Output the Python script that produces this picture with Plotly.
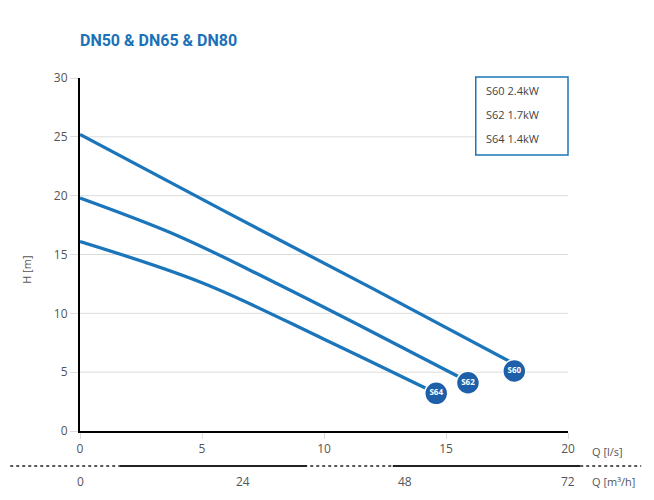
import plotly.graph_objects as go

# ---- data ----
q_s60 = [0, 6, 12, 17.8]
h_s60 = [25.2, 18.6, 12.1, 5.7]
q_s62 = [0, 4, 8, 12, 16]
h_s62 = [19.8, 16.6, 12.6, 8.4, 4.1]
q_s64 = [0, 5, 10, 14.6]
h_s64 = [16.1, 12.6, 7.8, 3.2]
series_names = ["S60", "S62", "S64"]
marker_q = [17.8, 15.9, 14.6]
marker_h = [5.1, 4.1, 3.2]
legend_labels = ["S60 2.4kW", "S62 1.7kW", "S64 1.4kW"]
x_ticks_ls = [0, 5, 10, 15, 20]
x_ticks_m3h = [0, 24, 48, 72]
y_ticks = [0, 5, 10, 15, 20, 25, 30]
grid_values = [5, 10, 15, 20, 25]

LINE = "#1b75bb"
MARK = "#1d5fa8"
TXT = "#555555"
FONT = "Open Sans"

fig = go.Figure()
for q, h in [(q_s60, h_s60), (q_s62, h_s62), (q_s64, h_s64)]:
    fig.add_trace(go.Scatter(x=q, y=h, mode="lines", line=dict(color=LINE, width=3.3, shape="spline", smoothing=1.0),
                             hoverinfo="skip", showlegend=False))

for g in grid_values:
    fig.add_shape(type="line", xref="x", yref="y", x0=0, x1=20, y0=g, y1=g,
                  line=dict(color="#dcdcdc", width=1), layer="below")

fig.add_trace(go.Scatter(x=marker_q, y=marker_h, mode="markers+text",
                         text=["<b>" + s + "</b>" for s in series_names],
                         textposition="middle center",
                         textfont=dict(color="white", size=8, family=FONT),
                         marker=dict(size=23, color=MARK, line=dict(color="white", width=1.5)),
                         showlegend=False, hoverinfo="skip"))

# second axis labels (m3/h -> l/s)
for v in x_ticks_m3h:
    fig.add_annotation(x=v / 3.6, y=-0.144, xref="x", yref="paper", text=str(v), showarrow=False,
                       font=dict(size=12, color=TXT, family=FONT), xanchor="center", yanchor="middle")

fig.add_annotation(x=1.046, y=-0.059, xref="paper", yref="paper", text="Q [l/s]", showarrow=False,
                   font=dict(size=11, color=TXT, family=FONT), xanchor="left", yanchor="middle")
fig.add_annotation(x=1.046, y=-0.144, xref="paper", yref="paper", text="Q [m³/h]", showarrow=False,
                   font=dict(size=11, color=TXT, family=FONT), xanchor="left", yanchor="middle")
fig.add_annotation(x=-0.111, y=0.456, xref="paper", yref="paper", text="H [m]", showarrow=False,
                   textangle=-90, font=dict(size=11, color=TXT, family=FONT), xanchor="center", yanchor="middle")
fig.add_annotation(x=-0.004, y=1.105, xref="paper", yref="paper", text="<b>DN50 & DN65 & DN80</b>",
                   showarrow=False, font=dict(size=16, color="#1b72b8", family="Roboto"),
                   xanchor="left", yanchor="middle")

# dotted separator line and solid segments
fig.add_shape(type="line", xref="paper", yref="paper", x0=-0.143, x1=1.15, y0=-0.099, y1=-0.099,
              line=dict(color="#222", width=1.5, dash="dot"))
for a, b in [(0.082, 0.465), (0.641, 1.025)]:
    fig.add_shape(type="line", xref="paper", yref="paper", x0=a, x1=b, y0=-0.099, y1=-0.099,
                  line=dict(color="#222", width=2))

# legend box
fig.add_shape(type="rect", xref="paper", yref="paper", x0=0.811, x1=1.0, y0=0.782, y1=1.003,
              line=dict(color=LINE, width=1.5), fillcolor="white")
for i, lab in enumerate(legend_labels):
    fig.add_annotation(x=0.828, y=0.966 - i * 0.068, xref="paper", yref="paper", text=lab, showarrow=False,
                       font=dict(size=11, color="#444", family=FONT), xanchor="left", yanchor="middle")

fig.update_layout(
    width=654, height=500,
    margin=dict(l=72, r=94, t=70, b=77),
    paper_bgcolor="white", plot_bgcolor="white",
    xaxis=dict(range=[0, 20], tickvals=x_ticks_ls, showgrid=False, zeroline=False,
               showline=True, linecolor="black", linewidth=2, ticks="outside", ticklen=6,
               tickcolor="#dddddd", tickfont=dict(size=12, color=TXT, family=FONT)),
    yaxis=dict(range=[0, 30], tickvals=y_ticks, showgrid=False, zeroline=False,
               showline=True, linecolor="black", linewidth=2, ticks="outside", ticklen=8,
               tickcolor="#dddddd", tickfont=dict(size=12, color=TXT, family=FONT)),
)

fig.write_html("out.html")
